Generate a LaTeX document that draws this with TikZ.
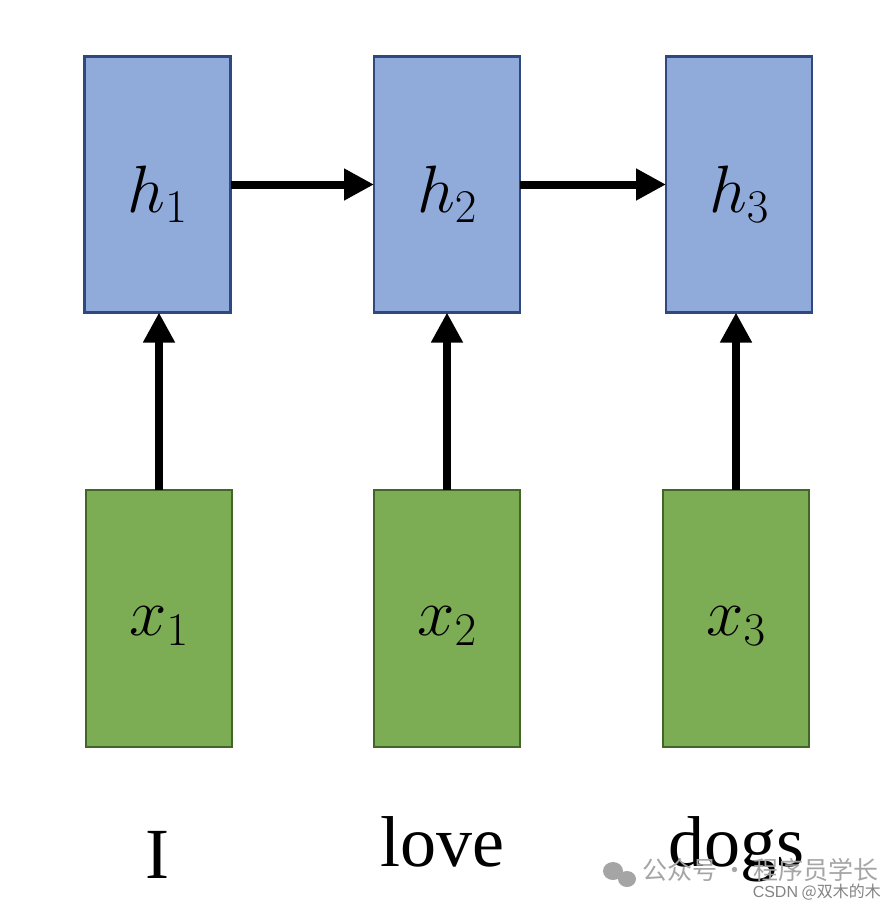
\documentclass[tikz,border=0pt]{standalone}
\usepackage{fix-cm}
\usepackage{fontspec}
\setmainfont{Liberation Serif}
\newfontfamily\cjk{Noto Sans CJK SC}
\newfontfamily\wmsans{Liberation Sans}
\usetikzlibrary{arrows.meta}
\definecolor{hfill}{RGB}{144,170,218}
\definecolor{hdraw}{RGB}{47,72,128}
\definecolor{xfill}{RGB}{124,172,84}
\definecolor{xdraw}{RGB}{66,102,40}
\definecolor{wm}{RGB}{165,165,165}
\begin{document}
\begin{tikzpicture}[x=1pt,y=-1pt,
  hbox/.style={draw=hdraw,fill=hfill,line width=2.5pt,minimum width=146pt,minimum height=256pt,inner sep=0pt,outer sep=0pt},
  xbox/.style={draw=xdraw,fill=xfill,line width=2.5pt,minimum width=146pt,minimum height=257pt,inner sep=0pt,outer sep=0pt},
  lab/.style={inner sep=0pt,font=\fontsize{67}{70}\selectfont},
  conn/.style={line width=8pt,-{Triangle[length=30pt,width=30pt]}},
  word/.style={font=\fontsize{72}{76}\selectfont,anchor=base,inner sep=0pt}]
\useasboundingbox (0,0) rectangle (896,910);
\fill[white] (0,0) rectangle (896,910);
\node[hbox] (h1) at (157.5,184.5) {};
\node[hbox] (h2) at (447,184.5) {};
\node[hbox] (h3) at (739,184.5) {};
\node[xbox] (x1) at (159,618.5) {};
\node[xbox] (x2) at (447,618.5) {};
\node[xbox] (x3) at (736,618.5) {};
\node[lab] (lh1) at ([yshift=-10pt]h1.center) {$h_1$};
\node[lab] (lh2) at ([yshift=-10pt]h2.center) {$h_2$};
\node[lab] (lh3) at ([yshift=-10pt]h3.center) {$h_3$};
\node[lab] (lx1) at ([yshift=-8pt]x1.center) {$x_1$};
\node[lab] (lx2) at ([yshift=-8pt]x2.center) {$x_2$};
\node[lab] (lx3) at ([yshift=-8pt]x3.center) {$x_3$};
\draw[conn] (h1.east) -- (h2.west);
\draw[conn] (h2.east) -- (h3.west);
\draw[conn] (x1.north) -- (x1.north |- h1.south);
\draw[conn] (x2.north) -- (x2.north |- h2.south);
\draw[conn] (x3.north) -- (x3.north |- h3.south);
\node[word] (w1) at (157,878) {I};
\node[word] (w2) at (442,866) {love};
\node[word] (w3) at (737,866) {dogs};
% watermark
\fill[wm] (613,871) ellipse (10pt and 9pt);
\fill[wm] (627,879) ellipse (9pt and 8pt);
\node[anchor=west,text=wm,font=\cjk\fontsize{25}{27}\selectfont,inner sep=0pt] (wm1) at (642,870) {公众号 · 程序员学长};
\node[anchor=east,text=wm!80!black,font=\cjk\fontsize{16}{18}\selectfont,inner sep=0pt] (wm2) at (881,892) {{\wmsans CSDN} @双木的木};
\end{tikzpicture}
\end{document}
